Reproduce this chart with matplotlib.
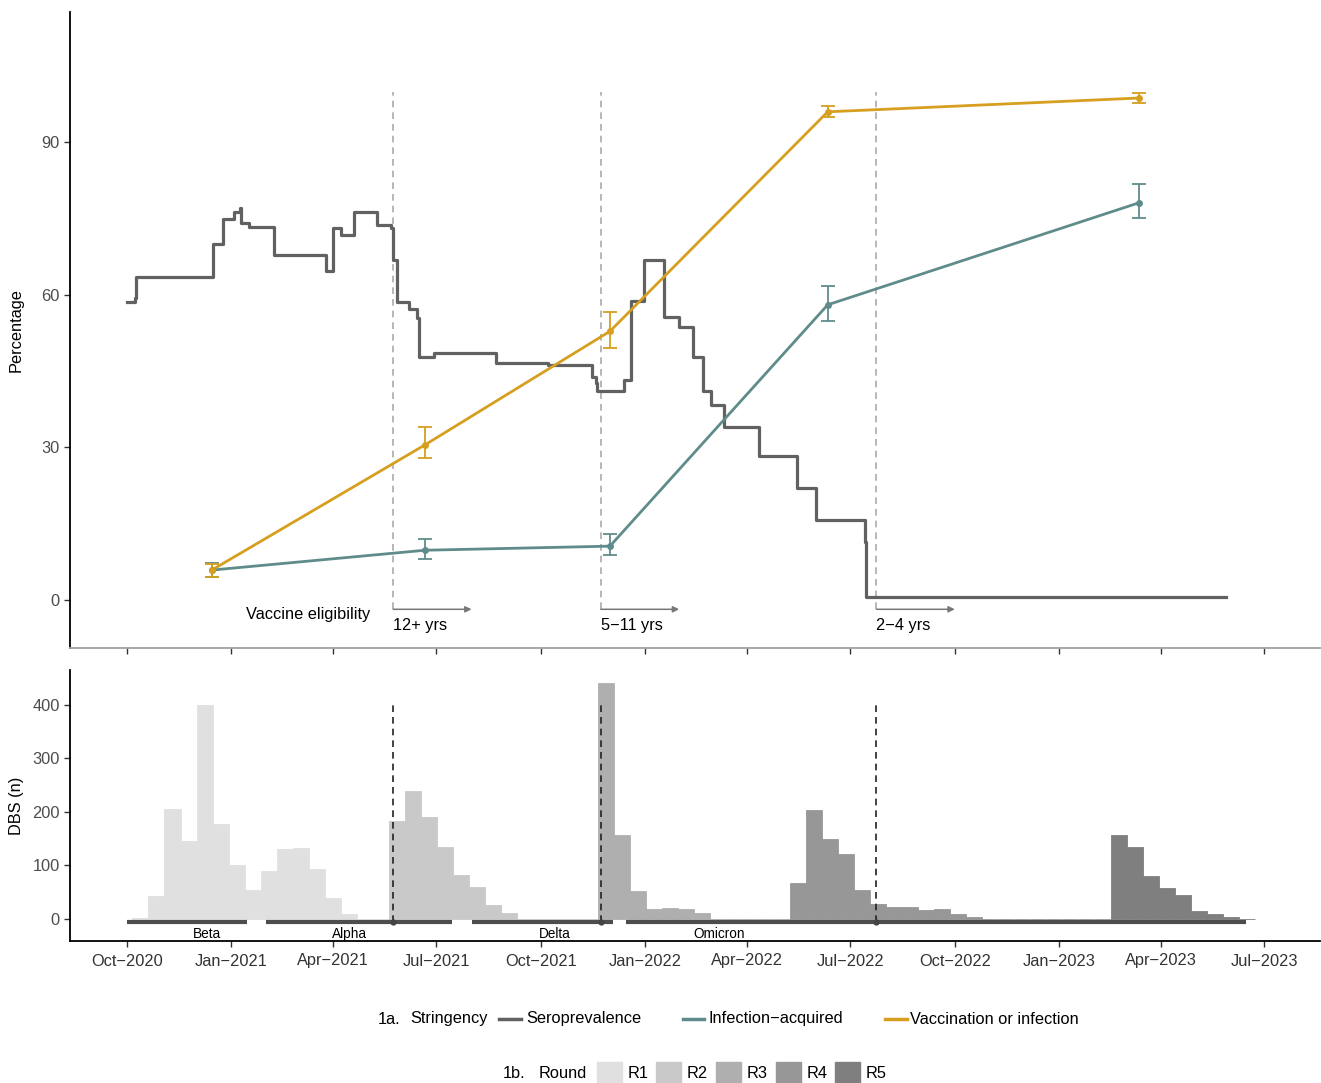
import matplotlib
matplotlib.use("Agg")
import matplotlib.pyplot as plt
import matplotlib.dates as mdates
from matplotlib.lines import Line2D
from matplotlib.patches import Rectangle
import numpy as np
import pandas as pd

plt.rcParams['font.family'] = ['Liberation Sans', 'DejaVu Sans']

# %% Data
# stringency index, step changes (date, value)
str_dates = ['2020-10-01', '2020-10-08', '2020-10-09', '2020-12-16', '2020-12-25',
             '2021-01-04', '2021-01-09', '2021-01-10', '2021-01-17', '2021-02-08',
             '2021-03-26', '2021-04-01', '2021-04-08', '2021-04-19', '2021-05-10',
             '2021-05-22', '2021-05-24', '2021-05-27', '2021-06-07', '2021-06-14',
             '2021-06-16', '2021-06-29', '2021-08-23', '2021-10-07', '2021-11-15',
             '2021-11-19', '2021-11-20', '2021-12-13', '2021-12-20', '2021-12-31',
             '2022-01-18', '2022-01-31', '2022-02-12', '2022-02-21', '2022-02-28',
             '2022-03-12', '2022-04-11', '2022-05-15', '2022-06-01', '2022-07-14',
             '2022-07-15', '2023-05-28']
str_vals = [58.5, 59.3, 63.5, 70.0, 74.9,
            76.2, 77.0, 74.0, 73.3, 67.8,
            64.6, 73.0, 71.7, 76.2, 73.7,
            73.0, 66.8, 58.5, 57.2, 55.4,
            47.7, 48.5, 46.5, 46.2, 43.8,
            42.6, 41.0, 43.2, 58.7, 66.8,
            55.6, 53.6, 47.8, 41.0, 38.3,
            34.0, 28.3, 22.0, 15.7, 11.4,
            0.6, 0.6]

# seroprevalence by round
sero_dates = ['2020-12-15', '2021-06-21', '2021-12-01', '2022-06-11', '2023-03-12']
inf_vals = [5.9, 9.8, 10.6, 58.0, 78.0]
inf_lo = [4.6, 8.0, 8.8, 54.8, 75.0]
inf_hi = [7.2, 12.0, 13.0, 61.7, 81.7]
vac_vals = [5.9, 30.5, 52.8, 95.9, 98.6]
vac_lo = [4.5, 27.9, 49.5, 94.9, 97.6]
vac_hi = [7.0, 34.0, 56.6, 97.0, 99.6]

# vaccine eligibility
elig_dates = ['2021-05-24', '2021-11-23', '2022-07-24']
elig_labels = ['12+ yrs', '5\u221211 yrs', '2\u22124 yrs']

# DBS counts, two-week bins
hist_start = '2020-10-06'
bin_days = 14.14
rounds = ['R1', 'R2', 'R3', 'R4', 'R5']
round_first_bin = [0, 16, 29, 41, 61]
round_counts = [
    [2, 43, 206, 146, 400, 178, 101, 55, 89, 130, 133, 94, 40, 10, 0, 0],
    [183, 240, 191, 135, 83, 60, 27, 12, 0, 0, 0, 0, 0],
    [441, 156, 53, 19, 21, 19, 12, 0, 0, 0, 0, 0],
    [68, 203, 150, 122, 55, 28, 23, 23, 16, 19, 10, 3, 1, 0, 0, 0, 0, 0, 0, 0],
    [156, 135, 81, 58, 45, 15, 10, 4, 0],
]
round_colors = ['#E0E0E0', '#C9C9C9', '#AFAFAF', '#979797', '#7F7F7F']

# variants
variants = ['Beta', 'Alpha', 'Delta', 'Omicron']
var_start = ['2020-10-01', '2021-02-01', '2021-08-01', '2021-12-15']
var_end = ['2021-01-15', '2021-07-15', '2021-12-04', '2023-06-15']
var_label_at = ['2020-12-11', '2021-04-15', '2021-10-13', '2022-03-07']

tick_dates = pd.date_range('2020-10-01', '2023-07-01', freq='3MS')

# %% Plot
W, H = 1321, 1083
fig = plt.figure(figsize=(W / 100, H / 100), dpi=100)
ax1 = fig.add_axes([70 / W, 1 - 648 / H, 1250 / W, 636 / H])
ax2 = fig.add_axes([70 / W, 1 - 941 / H, 1250 / W, 271 / H], sharex=ax1)

d = lambda s: mdates.date2num(pd.to_datetime(s))

c_str = '#616161'
c_inf = '#5F8C8A'
c_vac = '#D69F1F'
fs = 11.8

ax1.plot(d(str_dates), str_vals, drawstyle='steps-post', color=c_str, lw=2.3, zorder=3)

sx = d(sero_dates)
for vals, lo, hi, col in [(inf_vals, inf_lo, inf_hi, c_inf), (vac_vals, vac_lo, vac_hi, c_vac)]:
    vals = np.array(vals)
    err = [vals - np.array(lo), np.array(hi) - vals]
    ax1.plot(sx, vals, color=col, lw=2, zorder=4)
    ax1.errorbar(sx, vals, yerr=err, fmt='o', ms=4, color=col, ecolor=col,
                 elinewidth=1.3, capsize=5, capthick=1.3, zorder=5)

ex = d(elig_dates)
for x, lab in zip(ex, elig_labels):
    ax1.plot([x, x], [-1.8, 99.8], color='#AAAAAA', lw=1.2, ls=(0, (4, 3)), zorder=2)
    ax1.annotate('', xy=(x + 69, -1.8), xytext=(x, -1.8),
                 arrowprops=dict(arrowstyle='-|>', color='#777777', lw=1.1,
                                 mutation_scale=9, shrinkA=0, shrinkB=0))
    ax1.text(x, -4.9, lab, ha='left', va='center', fontsize=fs, color='black')
ax1.text(d('2021-05-04'), -2.75, 'Vaccine eligibility', ha='right', va='center',
         fontsize=fs, color='black')

ax1.set_ylim(-9.4, 115.5)
ax1.set_yticks([0, 30, 60, 90])
ax1.set_ylabel('Percentage', fontsize=fs)

# histogram
t0 = d(hist_start)
for cnts, first, col in zip(round_counts, round_first_bin, round_colors):
    lefts = t0 + (first + np.arange(len(cnts))) * bin_days
    ax2.bar(lefts, cnts, width=bin_days, align='edge', color=col,
            edgecolor=col, linewidth=0.6, zorder=2)

for x in ex:
    ax2.plot([x, x], [-5.6, 400], color='#222222', lw=1.2, ls=(0, (4, 3)), zorder=4)
    ax2.plot([x], [-5.6], 'o', color='#444444', ms=3.5, zorder=5)

for name, s, e, lx in zip(variants, var_start, var_end, var_label_at):
    ax2.plot([d(s), d(e)], [-5.6, -5.6], color='#4D4D4D', lw=3, solid_capstyle='butt', zorder=3)
    ax2.text(d(lx), -27, name, ha='center', va='center', fontsize=9.8, color='black')

ax2.set_ylim(-41, 465)
ax2.set_yticks([0, 100, 200, 300, 400])
ax2.set_ylabel('DBS (n)', fontsize=fs)

for ax in (ax1, ax2):
    ax.yaxis.set_label_coords(-0.0368, 0.5)

ax1.set_xlim(d('2020-08-12'), d('2023-08-19'))
ax2.set_xticks(d(tick_dates))
ax2.set_xticklabels([t.strftime('%b') + '\u2212' + t.strftime('%Y') for t in tick_dates])
ax1.tick_params(axis='x', labelbottom=False)

for ax in (ax1, ax2):
    for sp in ('top', 'right'):
        ax.spines[sp].set_visible(False)
    ax.spines['left'].set_color('black')
    ax.spines['left'].set_linewidth(1.3)
    ax.tick_params(axis='both', direction='out', length=4, width=1, color='#333333',
                   labelsize=fs, labelcolor='#4D4D4D')
ax1.spines['bottom'].set_color('#A0A0A0')
ax1.spines['bottom'].set_linewidth(1.3)
ax2.spines['bottom'].set_color('black')
ax2.spines['bottom'].set_linewidth(1.3)
ax2.tick_params(axis='x', labelcolor='#333333', pad=5)

# %% Legend
fx = lambda px: px / W
fy = lambda py: 1 - py / H
y1 = 1019
fig.text(fx(378), fy(y1), '1a.', fontsize=fs, va='center')
fig.text(fx(410), fy(y1), 'Stringency', fontsize=fs, va='center')
for (k0, k1, tx, lab, col) in [(499, 521, 526, 'Seroprevalence', c_str),
                               (683, 704, 708, 'Infection\u2212acquired', c_inf),
                               (885, 907, 910, 'Vaccination or infection', c_vac)]:
    fig.add_artist(Line2D([fx(k0), fx(k1)], [fy(y1), fy(y1)], color=col, lw=2.5,
                          transform=fig.transFigure))
    fig.text(fx(tx), fy(y1), lab, fontsize=fs, va='center')

y2 = 1073
fig.text(fx(503), fy(y2), '1b.', fontsize=fs, va='center')
fig.text(fx(539), fy(y2), 'Round', fontsize=fs, va='center')
box_x = [597, 656, 716, 776, 835]
for bx, lab, col in zip(box_x, rounds, round_colors):
    fig.add_artist(Rectangle((fx(bx), fy(1084)), 25 / W, 22 / H, color=col,
                             transform=fig.transFigure))
    fig.text(fx(bx + 31), fy(y2), lab, fontsize=fs, va='center')

fig.savefig('out.png', dpi=100)
